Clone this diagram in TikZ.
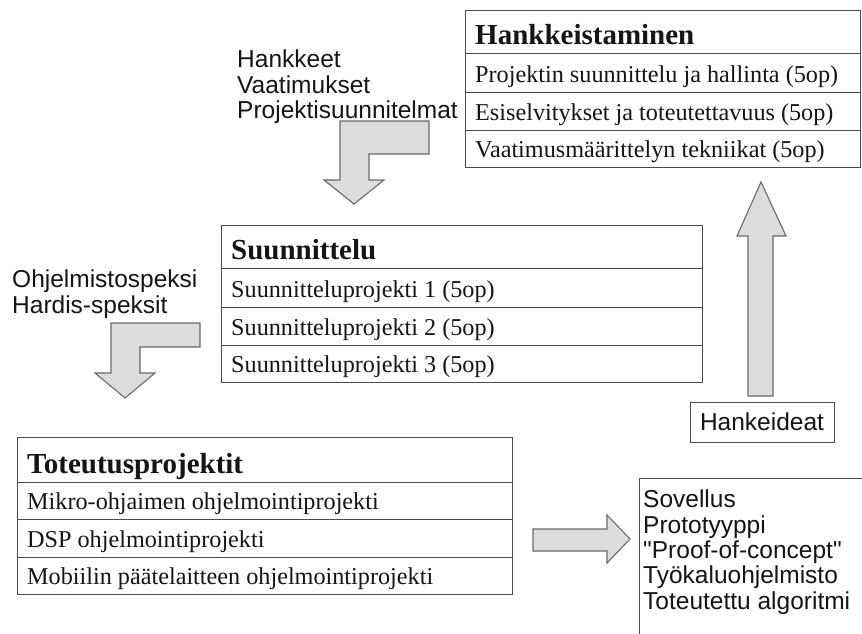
\documentclass[tikz,border=0pt]{standalone}
\usepackage{fontspec}
\setmainfont{Liberation Serif}
\newfontfamily\arialf{Liberation Sans}
\usetikzlibrary{calc}
\definecolor{arrowfill}{HTML}{DCDCDC}
\definecolor{arrowline}{HTML}{6A6A6A}
\definecolor{tabline}{HTML}{4A4A4A}
\definecolor{txt}{HTML}{151515}
\begin{document}
\begin{tikzpicture}[x=1pt,y=-1pt,
  cell/.style={draw=tabline, line width=1.1pt, rectangle, inner sep=0pt, anchor=north west, fill=white},
  hdrtext/.style={anchor=base west, inner sep=0pt, font=\fontsize{29}{32}\selectfont\bfseries, text=txt},
  rowtext/.style={anchor=base west, inner sep=0pt, font=\fontsize{24.2}{27}\selectfont, text=txt},
  sanstext/.style={anchor=base west, inner sep=0pt, font=\arialf\fontsize{24.5}{27}\selectfont, text=txt},
  blockarrow/.style={fill=arrowfill, draw=arrowline, line width=1.1pt, line join=miter}]
\useasboundingbox (0,0) rectangle (862,633);
\fill[white] (0,0) rectangle (862,633);

% ---------- Block arrows ----------
\draw[blockarrow] (340,121) -- (429,121) -- (429,154) -- (369,154) -- (369,180)
  -- (384,180) -- (354,204) -- (324,180) -- (340,180) -- cycle;
\draw[blockarrow] (111,323) -- (200,323) -- (200,347) -- (140,347) -- (140,373)
  -- (155,373) -- (125,398) -- (95,373) -- (111,373) -- cycle;
\draw[blockarrow] (748,396) -- (748,236) -- (737,236) -- (761,182) -- (786,236)
  -- (773,236) -- (773,396) -- cycle;
\draw[blockarrow] (533,529) -- (607,529) -- (607,515) -- (630,539) -- (607,563)
  -- (607,551) -- (533,551) -- cycle;

% ---------- Hankkeistaminen table ----------
\node[cell, minimum width=395pt, minimum height=43pt] (ha) at (465,10) {};
\node[cell, minimum width=395pt, minimum height=39pt] (hb) at (465,53) {};
\node[cell, minimum width=395pt, minimum height=38pt] (hc) at (465,92) {};
\node[cell, minimum width=395pt, minimum height=37pt] (hd) at (465,130) {};
\node[hdrtext] (hat) at ($(ha.south west)+(10,-10)$) {Hankkeistaminen};
\node[rowtext] (hbt) at ($(hb.south west)+(10,-11)$) {Projektin suunnittelu ja hallinta (5op)};
\node[rowtext] (hct) at ($(hc.south west)+(10,-11)$) {Esiselvitykset ja toteutettavuus (5op)};
\node[rowtext] (hdt) at ($(hd.south west)+(10,-11)$) {Vaatimusmäärittelyn tekniikat (5op)};

% ---------- Suunnittelu table ----------
\node[cell, minimum width=481pt, minimum height=43pt] (sa) at (221,225) {};
\node[cell, minimum width=481pt, minimum height=39pt] (sb) at (221,268) {};
\node[cell, minimum width=481pt, minimum height=38pt] (sc) at (221,307) {};
\node[cell, minimum width=481pt, minimum height=37pt] (sd) at (221,345) {};
\node[hdrtext] (sat) at ($(sa.south west)+(10,-10)$) {Suunnittelu};
\node[rowtext] (sbt) at ($(sb.south west)+(10,-11)$) {Suunnitteluprojekti 1 (5op)};
\node[rowtext] (sct) at ($(sc.south west)+(10,-11)$) {Suunnitteluprojekti 2 (5op)};
\node[rowtext] (sdt) at ($(sd.south west)+(10,-11)$) {Suunnitteluprojekti 3 (5op)};

% ---------- Toteutusprojektit table ----------
\node[cell, minimum width=495pt, minimum height=45pt] (ta) at (17,437) {};
\node[cell, minimum width=495pt, minimum height=37pt] (tb) at (17,482) {};
\node[cell, minimum width=495pt, minimum height=38pt] (tc) at (17,519) {};
\node[cell, minimum width=495pt, minimum height=37pt] (td) at (17,557) {};
\node[hdrtext] (tat) at ($(ta.south west)+(10,-10)$) {Toteutusprojektit};
\node[rowtext] (tbt) at ($(tb.south west)+(10,-11)$) {Mikro-ohjaimen ohjelmointiprojekti};
\node[rowtext] (tct) at ($(tc.south west)+(10,-11)$) {DSP ohjelmointiprojekti};
\node[rowtext] (tdt) at ($(td.south west)+(10,-11)$) {Mobiilin päätelaitteen ohjelmointiprojekti};

% ---------- Output box ----------
\node[cell, minimum width=240pt, minimum height=170pt] (out) at (639,478) {};
\node[sanstext] (o1) at (643,507) {Sovellus};
\node[sanstext] (o2) at (643,533) {Prototyyppi};
\node[sanstext] (o3) at (643,558) {"Proof-of-concept"};
\node[sanstext] (o4) at (643,583) {Työkaluohjelmisto};
\node[sanstext] (o5) at (643,609) {Toteutettu algoritmi};

% ---------- Hankeideat box ----------
\node[cell, minimum width=144pt, minimum height=40pt] (idea) at (690,402) {};
\node[sanstext, anchor=base] (ideat) at (762,430) {Hankeideat};

% ---------- Side texts ----------
\node[sanstext] (l1) at (237,67) {Hankkeet};
\node[sanstext] (l2) at (237,93) {Vaatimukset};
\node[sanstext] (l3) at (237,118) {Projektisuunnitelmat};
\node[sanstext] (m1) at (12,287) {Ohjelmistospeksi};
\node[sanstext] (m2) at (12,313) {Hardis-speksit};
\end{tikzpicture}
\end{document}
